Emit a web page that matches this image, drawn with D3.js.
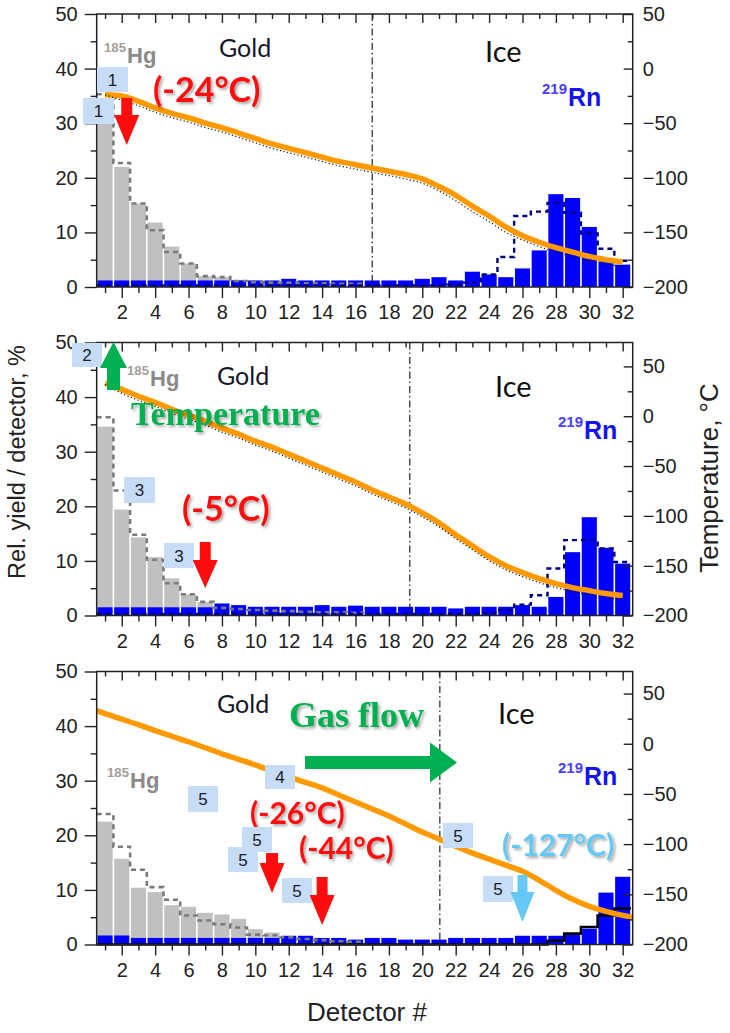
<!DOCTYPE html>
<html>
<head>
<meta charset="utf-8">
<script src="https://cdn.jsdelivr.net/npm/d3@7"></script>
<style>
  html, body { margin: 0; padding: 0; background: #fff; }
  svg { display: block; }
</style>
</head>
<body>
<svg id="fig" width="730" height="1033"></svg>
<script>
// ---------- shared categories and ticks ----------
const detectors = [1,2,3,4,5,6,7,8,9,10,11,12,13,14,15,16,17,18,19,20,21,22,23,24,25,26,27,28,29,30,31,32];
const evenTicks = [2,4,6,8,10,12,14,16,18,20,22,24,26,28,30,32];
const oddTicks  = [1,3,5,7,9,11,13,15,17,19,21,23,25,27,29,31];
const yieldTicks = [0,10,20,30,40,50];
const yieldMinor = [5,15,25,35,45];
const tempTicks  = [-200,-150,-100,-50,0,50];
const tempMinor  = [-175,-125,-75,-25,25];

// ---------- panel A (top) ----------
const hgYieldA = [34.0,22.0,15.3,11.8,7.4,4.3,2.0,1.8,1.3];
const hgSimA   = [35.3,22.7,15.3,10.4,6.4,4.3,2.0,1.8,1.1,0.9,0.8,0.8,0.7,0.7,0.6,0.6];
const rnYieldA = [1.2,1.2,1.2,1.2,1.2,1.2,1.2,1.2,1.2,1.2,1.2,1.5,1.2,1.2,1.2,1.2,1.2,1.2,1.2,1.5,1.8,1.2,2.8,2.3,1.8,3.4,6.7,17.0,16.3,11.0,4.7,4.1];
const rnSimA   = [0.3,0.3,0.3,0.3,0.3,0.3,0.3,0.3,0.3,0.3,0.3,0.3,0.3,0.3,0.3,0.3,0.3,0.3,0.3,0.3,0.3,0.4,0.8,2.3,5.5,13.0,13.8,15.4,13.6,9.8,7.0,4.8];
const tempA    = [-24,-25,-30,-36,-41,-45,-50,-54,-59,-64,-69,-73,-77,-81,-85,-88,-91,-94,-97,-101,-108,-116,-126,-135,-145,-153,-159,-164,-168,-172,-175,-177];
const thermoA  = [-24,-29,-34,-40,-45,-49,-54,-58,-63,-68,-73,-77,-81,-85,-89,-92,-95,-98,-101,-105,-112,-121,-131,-140,-150,-157,-163,-168,-172,-176,-179,-181];

// ---------- panel B (middle) ----------
const hgYieldB = [34.6,19.4,14.3,10.7,6.8,3.9,2.5];
const hgSimB   = [36.3,22.9,14.8,10.2,5.9,3.9,2.5,1.4,1.2,1.0,0.9,0.8,0.7,0.6,0.6,0.5];
const rnYieldB = [1.5,1.5,1.5,1.5,1.5,1.5,1.5,2.2,1.9,1.6,1.6,1.6,1.6,1.9,1.6,1.8,1.6,1.6,1.6,1.6,1.6,1.3,1.6,1.6,1.6,1.9,1.6,3.4,11.6,18.0,12.4,9.5];
const rnSimB   = [0.3,0.3,0.3,0.3,0.3,0.3,0.3,0.3,0.3,0.3,0.3,0.3,0.3,0.3,0.3,0.3,0.3,0.3,0.3,0.3,0.3,0.3,0.3,0.5,1.0,2.0,3.7,8.6,13.8,13.8,12.3,9.8];
const tempB    = [33,27,20,14,7,1,-5,-12,-18,-25,-31,-38,-45,-52,-59,-66,-74,-81,-88,-97,-107,-119,-130,-141,-150,-157,-163,-168,-172,-175,-178,-180];
const thermoB  = [32,23,16,10,3,-3,-9,-16,-22,-29,-35,-42,-49,-56,-63,-70,-78,-85,-92,-101,-111,-123,-134,-145,-154,-161,-167,-172,-176,-179,-182,-184];

// ---------- panel C (bottom) ----------
const hgYieldC = [22.5,15.7,10.4,9.6,7.2,6.9,5.8,5.5,4.7,2.8,2.2];
const hgSimC   = [23.9,17.9,13.7,10.5,8.2,5.3,4.4,3.7,3.1,1.8,1.7,1.3,1.0,0.8,0.6,0.5];
const rnYieldC = [1.65,1.65,1.2,1.2,1.2,1.2,1.2,1.2,1.2,1.2,1.2,1.6,1.6,1.2,1.2,0.9,1.2,1.2,0.9,0.9,0.9,1.2,1.2,1.2,1.2,1.6,1.6,1.6,1.9,2.9,9.5,12.4];
const rnSimC   = [0,0,0,0,0,0,0,0,0,0,0,0,0,0,0,0,0,0,0,0,0,0,0,0,0,0,0,0.7,2.0,3.2,5.3,6.6];
const tempPosC = [0.5,1,2,3,4,5,6,7,8,9,10,11,12,13,14,15,16,17,18,19,20,21,22,23,24,25,26,27,28,29,30,31,32,32.6];
const tempC    = [33,30,24.5,19,13,7.5,2,-4,-10,-15.5,-21,-27,-33,-38.5,-44,-51,-58,-65,-72,-80,-88,-95,-102,-109,-115,-121,-127,-136,-146,-155,-162,-167,-171,-173];

// Gold / ice boundary (detector units) and temperature axis tops
const iceStart = [17.0, 19.25, 21.05];
const tempTop  = [50, 74, 72];

// ---------- layout ----------
const X0 = 96.7, X1 = 632.7, PH = 273;
const panelTop = [14, 342.5, 671.5];
const x = d3.scaleLinear().domain([0.5, 32.6]).range([X0, X1]);
const step = x(1) - x(0);

const svg = d3.select("#fig");
svg.append("rect").attr("width", 730).attr("height", 1033).attr("fill", "#fff");

const defs = svg.append("defs");
const f = defs.append("filter").attr("id", "tshadow")
  .attr("x", "-10%").attr("y", "-20%").attr("width", "130%").attr("height", "150%");
f.append("feDropShadow").attr("dx", 2).attr("dy", 2).attr("stdDeviation", 1.6)
  .attr("flood-color", "#000").attr("flood-opacity", 0.35);

const SANS = "'Liberation Sans', Arial, sans-serif";
const SERIF = "'Liberation Serif', 'Times New Roman', serif";
const CAL = "Lato, 'Open Sans', sans-serif";

function stepPoints(vals) {
  const pts = vals.map((v, i) => [detectors[i] - 0.5, v]);
  pts.push([detectors[vals.length - 1] + 0.5, vals[vals.length - 1]]);
  return pts;
}

function drawPanel(p) {
  const top = panelTop[p.idx], bottom = top + PH;
  const yL = d3.scaleLinear().domain([0, 50]).range([bottom, top]);
  const yR = d3.scaleLinear().domain([-200, tempTop[p.idx]]).range([bottom, top]);
  const g = svg.append("g");

  // 185Hg yield bars
  g.append("g").selectAll("rect").data(p.hg).join("rect")
    .attr("x", (d, i) => x(detectors[i] - 0.5) + 0.8)
    .attr("width", step - 1.6)
    .attr("y", d => yL(d))
    .attr("height", d => yL(0) - yL(d))
    .attr("fill", "#c0c0c0");

  // 219Rn yield bars
  g.append("g").selectAll("rect").data(p.rn).join("rect")
    .attr("x", (d, i) => x(detectors[i] - 0.5) + 0.8)
    .attr("width", step - 1.6)
    .attr("y", d => yL(d))
    .attr("height", d => yL(0) - yL(d))
    .attr("fill", "#0000ff");

  const stepLine = d3.line().x(d => x(d[0])).y(d => yL(d[1])).curve(d3.curveStepAfter);

  // simulated 185Hg distribution
  g.append("path").attr("d", stepLine(stepPoints(p.hgSim)))
    .attr("fill", "none").attr("stroke", "#7a7a7a").attr("stroke-width", 2.6)
    .attr("stroke-dasharray", "5,4");

  // simulated 219Rn distribution
  g.append("path").attr("d", stepLine(stepPoints(p.rnSim)))
    .attr("fill", "none")
    .attr("stroke", p.rnSimSolid ? "#000" : "#000080")
    .attr("stroke-width", p.rnSimSolid ? 2.6 : 2.4)
    .attr("stroke-dasharray", p.rnSimSolid ? null : "5,4");

  // gold / ice boundary
  g.append("line")
    .attr("x1", x(iceStart[p.idx])).attr("x2", x(iceStart[p.idx]))
    .attr("y1", top).attr("y2", bottom)
    .attr("stroke", "#222").attr("stroke-width", 1.2)
    .attr("stroke-dasharray", "7,3,1.5,3");

  // temperature profile
  const tLine = d3.line().x(d => x(d[0])).y(d => yR(d[1])).curve(d3.curveMonotoneX);
  const tPts = p.temp.map((v, i) => [p.tempPos[i], v]);
  g.append("path").attr("d", tLine(tPts))
    .attr("fill", "none").attr("stroke", "#ff9900").attr("stroke-width", 5.5)
    .attr("stroke-linecap", "butt");
  if (p.thermo) {
    const dPts = p.thermo.map((v, i) => [detectors[i], v]);
    g.append("path").attr("d", tLine(dPts))
      .attr("fill", "none").attr("stroke", "#111").attr("stroke-width", 1.2)
      .attr("stroke-dasharray", "1.2,2.4");
  }

  // frame
  g.append("rect").attr("x", X0).attr("y", top).attr("width", X1 - X0).attr("height", PH)
    .attr("fill", "none").attr("stroke", "#222").attr("stroke-width", 1.5);

  const styleAxis = sel => {
    sel.select(".domain").remove();
    sel.selectAll("line").attr("stroke", "#222").attr("stroke-width", 1.4);
    sel.selectAll("text").attr("font-family", SANS).attr("font-size", 20).attr("fill", "#222");
  };

  // bottom axis: labelled even detectors, short odd ticks
  g.append("g").attr("transform", `translate(0,${bottom})`)
    .call(d3.axisBottom(x).tickValues(evenTicks).tickSizeInner(11).tickSizeOuter(0).tickPadding(7))
    .call(styleAxis);
  g.append("g").attr("transform", `translate(0,${bottom})`)
    .call(d3.axisBottom(x).tickValues(oddTicks).tickSizeInner(6).tickSizeOuter(0).tickFormat(""))
    .call(styleAxis);
  // top axis, inward ticks
  g.append("g").attr("transform", `translate(0,${top})`)
    .call(d3.axisTop(x).tickValues(evenTicks).tickSizeInner(-9).tickSizeOuter(0).tickFormat(""))
    .call(styleAxis);
  g.append("g").attr("transform", `translate(0,${top})`)
    .call(d3.axisTop(x).tickValues(oddTicks).tickSizeInner(-5).tickSizeOuter(0).tickFormat(""))
    .call(styleAxis);
  // left axis (yield)
  g.append("g").attr("transform", `translate(${X0},0)`)
    .call(d3.axisLeft(yL).tickValues(yieldTicks).tickSizeInner(12).tickSizeOuter(0).tickPadding(7))
    .call(styleAxis);
  g.append("g").attr("transform", `translate(${X0},0)`)
    .call(d3.axisLeft(yL).tickValues(yieldMinor).tickSizeInner(6).tickSizeOuter(0).tickFormat(""))
    .call(styleAxis);
  // right axis (temperature), inward ticks
  g.append("g").attr("transform", `translate(${X1},0)`)
    .call(d3.axisRight(yR).tickValues(tempTicks).tickSizeInner(-9).tickSizeOuter(0).tickPadding(10))
    .call(styleAxis);
  g.append("g").attr("transform", `translate(${X1},0)`)
    .call(d3.axisRight(yR).tickValues(tempMinor).tickSizeInner(-5).tickSizeOuter(0).tickFormat(""))
    .call(styleAxis);

  return g;
}

// ---------- annotation helpers ----------
function txt(g, x0, y0, s, o) {
  const t = g.append("text").attr("x", x0).attr("y", y0).text(s)
    .attr("font-family", o.family || SANS)
    .attr("font-size", o.size)
    .attr("font-weight", o.weight || "normal")
    .attr("fill", o.fill || "#111");
  if (o.shadow) t.attr("filter", "url(#tshadow)");
  return t;
}
function tag(g, x0, y0, w, h, s) {
  g.append("rect").attr("x", x0).attr("y", y0).attr("width", w).attr("height", h).attr("fill", "#c6dcf7");
  txt(g, x0 + w / 2, y0 + h / 2 + 6, s, { size: 17, fill: "#1b1b2b" }).attr("text-anchor", "middle");
}
function nuclide(g, x0, y0, mass, sym, size, cSup, cSym) {
  txt(g, x0, y0 - size * 0.5, mass, { size: size * 0.6, weight: "bold", fill: cSup });
  const w = mass.length * size * 0.6 * 0.556;
  txt(g, x0 + w + 1, y0, sym, { size: size, weight: "bold", fill: cSym });
}
function downArrow(g, cx, y0, y1, sw, hw, hl, fill) {
  const p = `M${cx - sw / 2},${y0} L${cx + sw / 2},${y0} L${cx + sw / 2},${y1 - hl} L${cx + hw / 2},${y1 - hl} L${cx},${y1} L${cx - hw / 2},${y1 - hl} L${cx - sw / 2},${y1 - hl} Z`;
  g.append("path").attr("d", p).attr("fill", fill);
}
function upArrow(g, cx, y0, y1, sw, hw, hl, fill) {
  const p = `M${cx},${y0} L${cx + hw / 2},${y0 + hl} L${cx + sw / 2},${y0 + hl} L${cx + sw / 2},${y1} L${cx - sw / 2},${y1} L${cx - sw / 2},${y0 + hl} L${cx - hw / 2},${y0 + hl} Z`;
  g.append("path").attr("d", p).attr("fill", fill);
}
function rightArrow(g, x0, x1, cy, sh, hh, hl, fill) {
  const p = `M${x0},${cy - sh / 2} L${x1 - hl},${cy - sh / 2} L${x1 - hl},${cy - hh / 2} L${x1},${cy} L${x1 - hl},${cy + hh / 2} L${x1 - hl},${cy + sh / 2} L${x0},${cy + sh / 2} Z`;
  g.append("path").attr("d", p).attr("fill", fill);
}

const RED = "#ff0d0d", GREEN = "#00b050", SKY = "#66c8f5";
const HG_SUP = "#a39e98", HG = "#8a8a8a", RN_SUP = "#4a3cff", RN = "#1414f0";

// ---------- panel A ----------
const gA = drawPanel({ idx: 0, hg: hgYieldA, hgSim: hgSimA, rn: rnYieldA, rnSim: rnSimA,
  temp: tempA, tempPos: detectors, thermo: thermoA });
nuclide(gA, 104, 63, "185", "Hg", 22, HG_SUP, HG);
txt(gA, 219, 57, "Gold", { family: CAL, size: 25, fill: "#15152a" });
txt(gA, 485, 62, "Ice", { family: CAL, size: 29, fill: "#111" });
nuclide(gA, 542, 106, "219", "Rn", 25, RN_SUP, RN);
tag(gA, 97, 67, 31, 25, "1");
tag(gA, 83, 98, 31, 26, "1");
downArrow(gA, x(2.3), 98, 145, 11, 25, 30, RED);
txt(gA, 153, 102, "(-24°C)", { family: CAL, size: 34, weight: "bold", fill: RED, shadow: true });

// ---------- panel B ----------
const gB = drawPanel({ idx: 1, hg: hgYieldB, hgSim: hgSimB, rn: rnYieldB, rnSim: rnSimB,
  temp: tempB, tempPos: detectors, thermo: thermoB });
nuclide(gB, 127, 386, "185", "Hg", 22, HG_SUP, HG);
txt(gB, 217, 385, "Gold", { family: CAL, size: 25, fill: "#15152a" });
txt(gB, 495, 397, "Ice", { family: CAL, size: 29, fill: "#111" });
nuclide(gB, 558, 439, "219", "Rn", 25, RN_SUP, RN);
tag(gB, 72, 343, 30, 24, "2");
upArrow(gB, 113.5, 342, 390, 13, 27, 26, GREEN);
txt(gB, 131, 425, "Temperature", { family: SERIF, size: 34, weight: "bold", fill: GREEN, shadow: true });
tag(gB, 124, 477, 31, 26, "3");
tag(gB, 164, 543, 30, 25, "3");
txt(gB, 182, 521, "(-5°C)", { family: CAL, size: 34, weight: "bold", fill: RED, shadow: true });
downArrow(gB, x(7), 542, 588, 11, 25, 28, RED);

// ---------- panel C ----------
const gC = drawPanel({ idx: 2, hg: hgYieldC, hgSim: hgSimC, rn: rnYieldC, rnSim: rnSimC, rnSimSolid: true,
  temp: tempC, tempPos: tempPosC });
txt(gC, 217, 713, "Gold", { family: CAL, size: 25, fill: "#15152a" });
txt(gC, 289, 727, "Gas flow", { family: SERIF, size: 36, weight: "bold", fill: GREEN, shadow: true });
rightArrow(gC, 305, 457, 762.5, 13, 40, 27, GREEN);
txt(gC, 498, 724, "Ice", { family: CAL, size: 29, fill: "#111" });
nuclide(gC, 107, 788, "185", "Hg", 22, HG_SUP, HG);
nuclide(gC, 558, 785, "219", "Rn", 25, RN_SUP, RN);
tag(gC, 265, 765, 30, 24, "4");
tag(gC, 188, 786, 30, 26, "5");
txt(gC, 250, 824, "(-26°C)", { family: CAL, size: 30, weight: "bold", fill: RED, shadow: true });
tag(gC, 242, 827, 30, 25, "5");
tag(gC, 228, 847, 30, 25, "5");
txt(gC, 299, 859, "(-44°C)", { family: CAL, size: 30, weight: "bold", fill: RED, shadow: true });
tag(gC, 282, 878, 30, 25, "5");
tag(gC, 443, 823, 30, 25, "5");
tag(gC, 483, 876, 30, 26, "5");
txt(gC, 502, 856, "(-127°C)", { family: CAL, size: 30, weight: "bold", fill: SKY, shadow: true });
downArrow(gC, x(11), 853, 893, 12, 25, 30, RED);
downArrow(gC, x(14), 877, 925, 11, 25, 30, RED);
downArrow(gC, x(26), 875, 922, 10, 24, 30, SKY);

// ---------- axis titles ----------
svg.append("text").attr("transform", "translate(25,462) rotate(-90)")
  .attr("text-anchor", "middle").attr("font-family", SANS).attr("font-size", 23.5).attr("fill", "#222")
  .text("Rel. yield / detector, %");
svg.append("text").attr("transform", "translate(718,478) rotate(-90)")
  .attr("text-anchor", "middle").attr("font-family", SANS).attr("font-size", 26).attr("fill", "#222")
  .text("Temperature, °C");
svg.append("text").attr("x", 367).attr("y", 1021)
  .attr("text-anchor", "middle").attr("font-family", SANS).attr("font-size", 26).attr("fill", "#222")
  .text("Detector #");
</script>
</body>
</html>
